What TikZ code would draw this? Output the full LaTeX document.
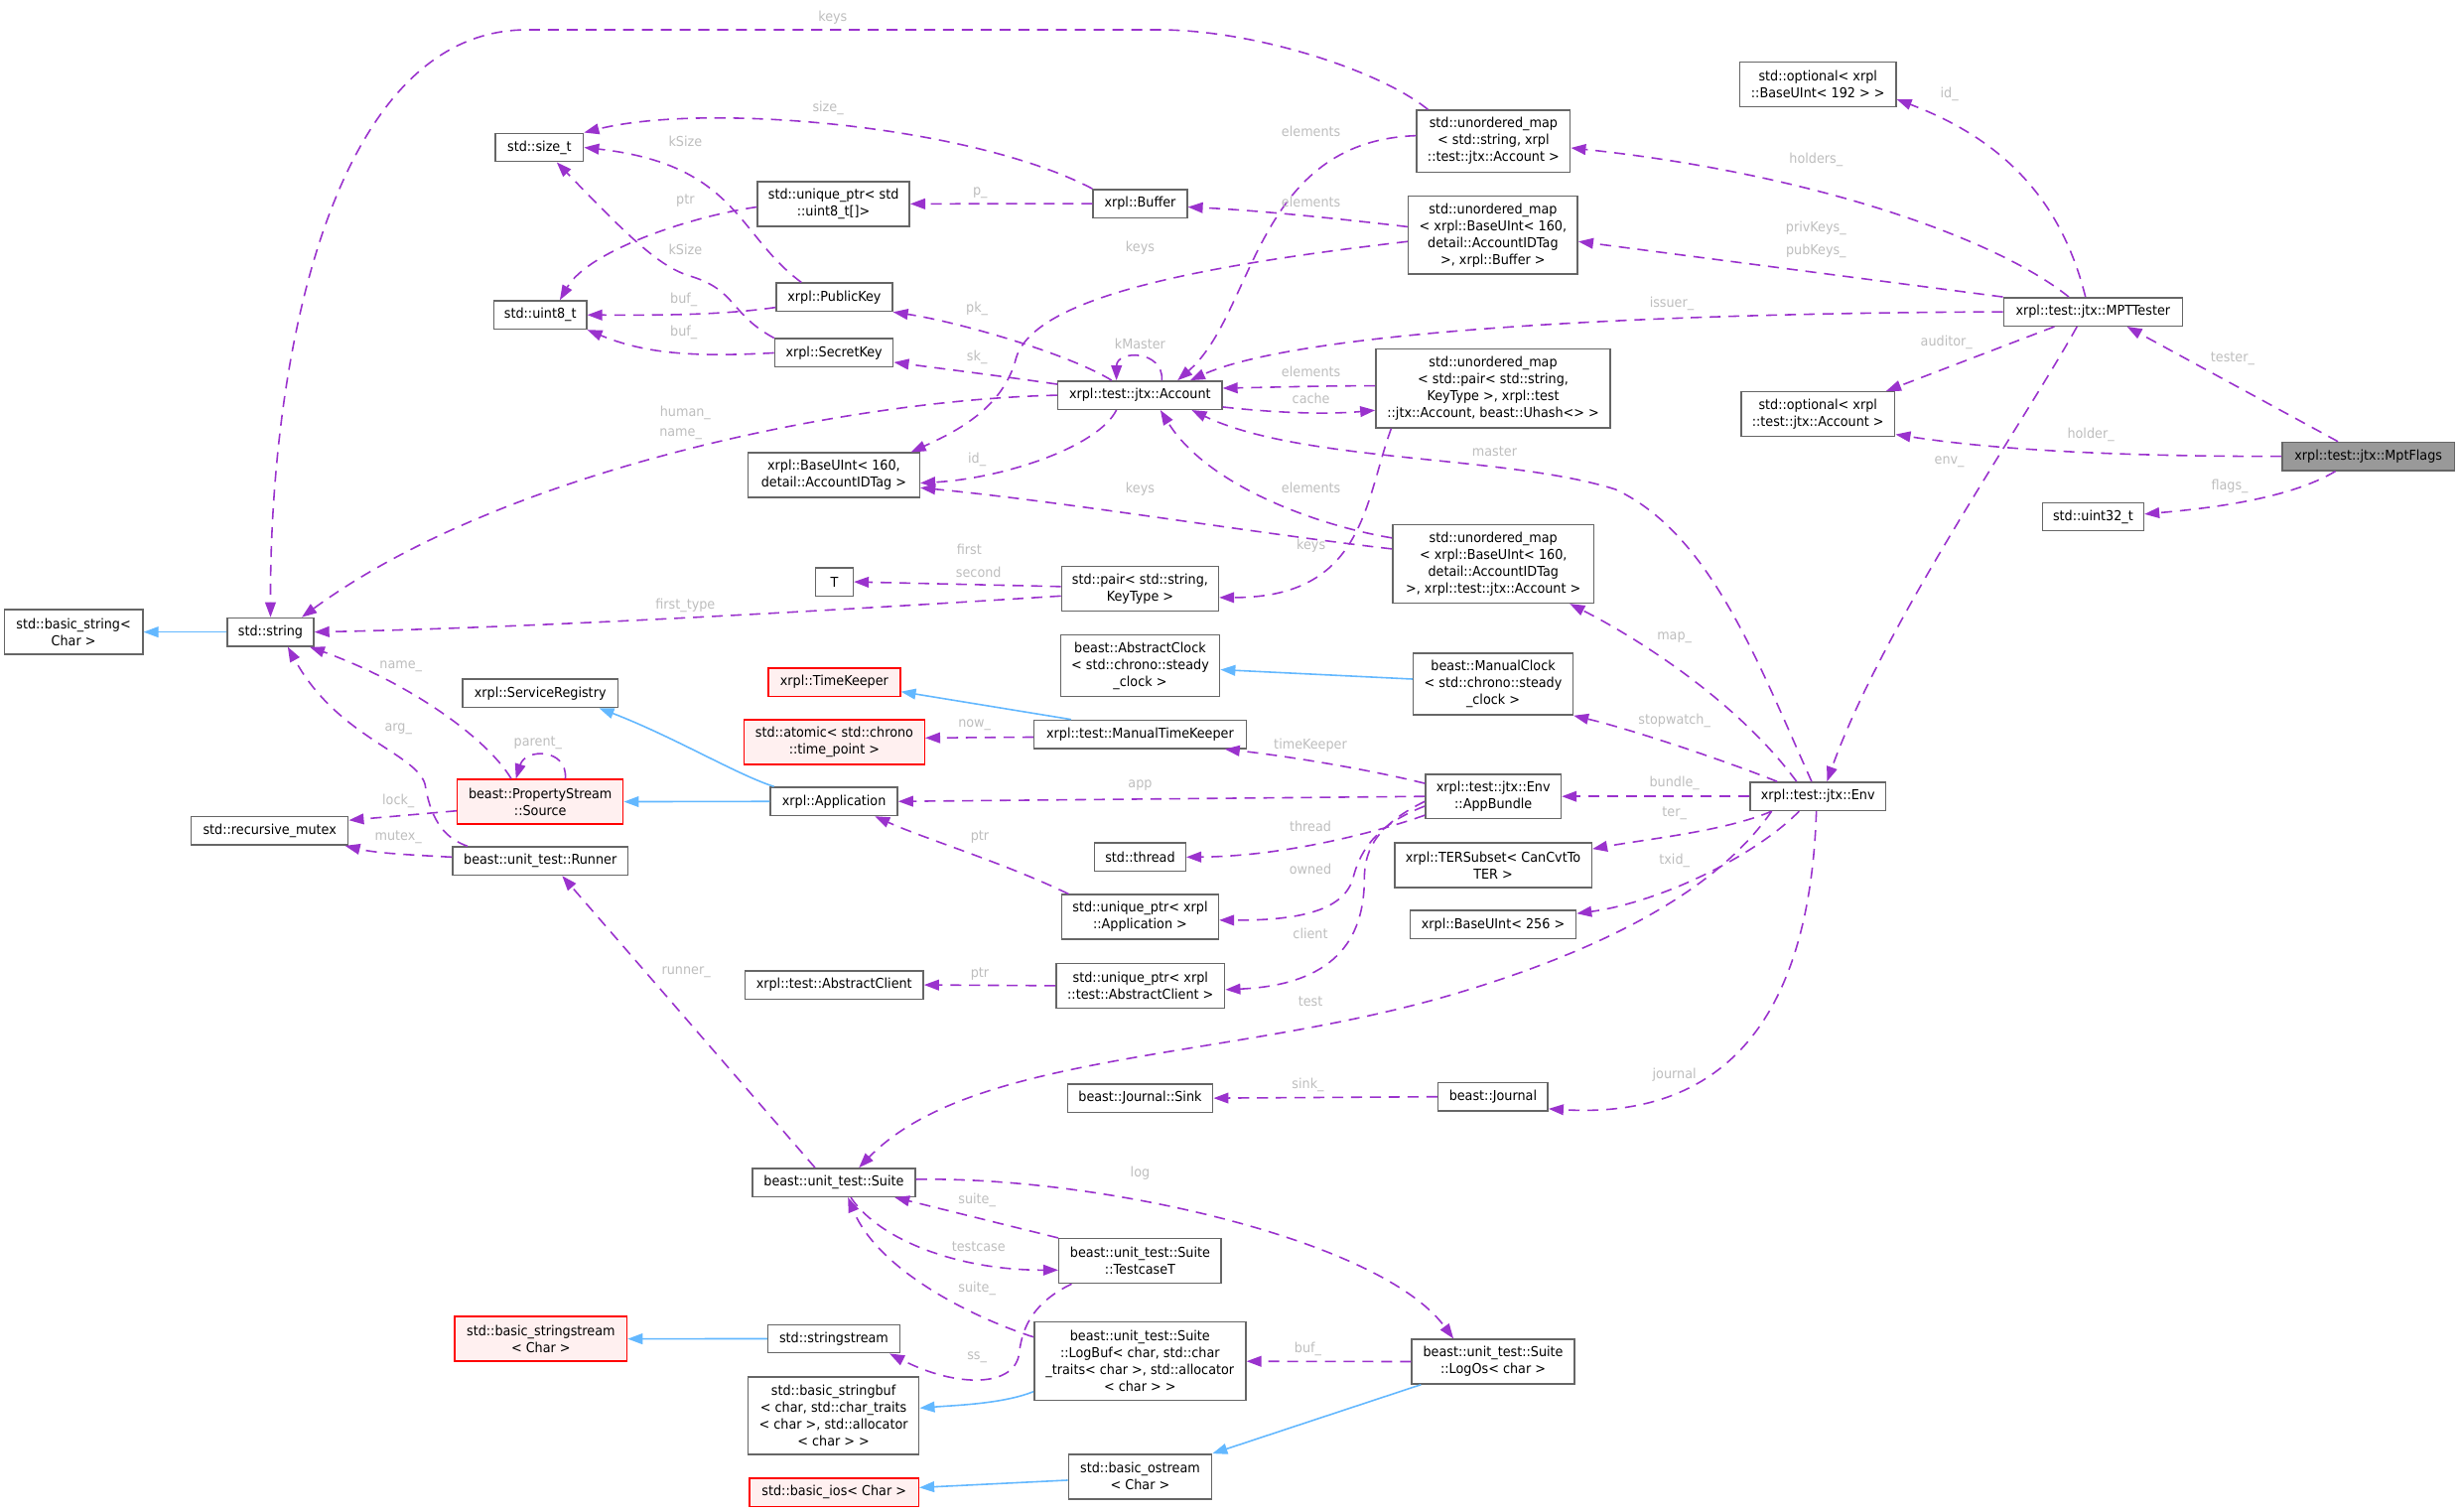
\documentclass[tikz,border=0pt]{standalone}
\usepackage{fontspec}
\setmainfont{DejaVu Sans}[FakeStretch=0.93]
\usetikzlibrary{arrows.meta}
\definecolor{epurple}{HTML}{9A32CD}
\definecolor{iblue}{HTML}{63B8FF}
\definecolor{lgray}{HTML}{BEBEBE}
\definecolor{bgray}{HTML}{666666}
\definecolor{rfill}{HTML}{FFF0F0}
\definecolor{ffill}{HTML}{999999}
\newcommand\dfont{\fontsize{8.7}{10.75}\selectfont}
\tikzset{
 cls/.style={draw=bgray, line width=0.95pt, fill=white, inner sep=0pt, align=center, font=\dfont, text=black},
 trunc/.style={cls, draw=red, fill=rfill},
 focus/.style={cls, fill=ffill},
 rel/.style={draw=epurple, line width=1pt, dash pattern=on 7pt off 5pt, -{Triangle[length=9.5pt,width=6.8pt]}},
 inh/.style={draw=iblue, line width=1pt, -{Triangle[length=9.5pt,width=6.8pt]}},
 elbl/.style={text=lgray, font=\dfont, inner sep=0pt},
}
\begin{document}
\begin{tikzpicture}[x=1pt,y=-1pt]
\fill[white] (0,0) rectangle (1568,964);
\useasboundingbox (0,0) rectangle (1568,964);
% ---------- nodes ----------
\node[cls, minimum width=88.3pt, minimum height=28.4pt] (bstr) at (46.9,403) {std::basic\_string<\\Char >};
\node[cls, minimum width=55pt, minimum height=18pt] (str) at (172.5,403) {std::string};
\node[cls, minimum width=100pt, minimum height=18pt] (rmutex) at (172,529.8) {std::recursive\_mutex};
\node[cls, minimum width=56pt, minimum height=18pt] (sizet) at (344,94) {std::size\_t};
\node[cls, minimum width=59pt, minimum height=18pt] (uint8) at (344.5,200.8) {std::uint8\_t};
\node[cls, minimum width=109.4pt, minimum height=28.4pt] (bu160) at (531.7,303) {xrpl::BaseUInt< 160,\\detail::AccountIDTag >};
\node[cls, minimum width=24pt, minimum height=18pt] (T) at (532,371) {T};
\node[cls, minimum width=99pt, minimum height=18pt] (svcreg) at (344.5,442) {xrpl::ServiceRegistry};
\node[trunc, minimum width=105.7pt, minimum height=28.4pt] (pss) at (344.5,511.2) {beast::PropertyStream\\::Source};
\node[cls, minimum width=111.8pt, minimum height=18pt] (runner) at (344.5,549) {beast::unit\_test::Runner};
\node[cls, minimum width=113.7pt, minimum height=18pt] (aclient) at (531.9,628) {xrpl::test::AbstractClient};
\node[cls, minimum width=104pt, minimum height=18pt] (suite) at (531.7,754) {beast::unit\_test::Suite};
\node[trunc, minimum width=109.7pt, minimum height=28.4pt] (bss) at (344.9,853.7) {std::basic\_stringstream\\< Char >};
\node[cls, minimum width=84.1pt, minimum height=18pt] (sstream) at (531.7,853.6) {std::stringstream};
\node[cls, minimum width=109pt, minimum height=49.4pt] (bsb) at (531.5,902.7) {std::basic\_stringbuf\\< char, std::char\_traits\\< char >, std::allocator\\< char > >};
\node[trunc, minimum width=107.7pt, minimum height=18pt] (bios) at (531.9,951.6) {std::basic\_ios< Char >};
\node[cls, minimum width=97pt, minimum height=28.4pt] (uptr8) at (531.5,130) {std::unique\_ptr< std\\::uint8\_t[]>};
\node[cls, minimum width=74pt, minimum height=18pt] (pubkey) at (532,189.5) {xrpl::PublicKey};
\node[cls, minimum width=75.5pt, minimum height=18pt] (seckey) at (531.8,225) {xrpl::SecretKey};
\node[cls, minimum width=60pt, minimum height=18pt] (buffer) at (727,129.8) {xrpl::Buffer};
\node[cls, minimum width=104.6pt, minimum height=18pt] (acct) at (726.9,252) {xrpl::test::jtx::Account};
\node[cls, minimum width=100pt, minimum height=28.4pt] (pair) at (727,375.4) {std::pair< std::string,\\KeyType >};
\node[cls, minimum width=101.5pt, minimum height=39.4pt] (aclock) at (727,424.4) {beast::AbstractClock\\< std::chrono::steady\\\_clock >};
\node[trunc, minimum width=84pt, minimum height=18pt] (tk) at (532,435) {xrpl::TimeKeeper};
\node[trunc, minimum width=115pt, minimum height=28.4pt] (atomic) at (532,473.2) {std::atomic< std::chrono\\::time\_point >};
\node[cls, minimum width=135.3pt, minimum height=18pt] (mtk) at (727,468.2) {xrpl::test::ManualTimeKeeper};
\node[cls, minimum width=81pt, minimum height=18pt] (app) at (531.8,511) {xrpl::Application};
\node[cls, minimum width=58pt, minimum height=18pt] (thread) at (727,546.5) {std::thread};
\node[cls, minimum width=100pt, minimum height=28.4pt] (uptrapp) at (727,584.7) {std::unique\_ptr< xrpl\\::Application >};
\node[cls, minimum width=107.5pt, minimum height=28.4pt] (uptrac) at (727.2,628.5) {std::unique\_ptr< xrpl\\::test::AbstractClient >};
\node[cls, minimum width=92.7pt, minimum height=18pt] (sink) at (727,700.2) {beast::Journal::Sink};
\node[cls, minimum width=103.5pt, minimum height=28.4pt] (tcase) at (727,804) {beast::unit\_test::Suite\\::TestcaseT};
\node[cls, minimum width=134.9pt, minimum height=50pt] (logbuf) at (726.9,868) {beast::unit\_test::Suite\\::LogBuf< char, std::char\\\_traits< char >, std::allocator\\< char > >};
\node[cls, minimum width=91.3pt, minimum height=28.4pt] (bostream) at (727,941.5) {std::basic\_ostream\\< Char >};
\node[cls, minimum width=97.8pt, minimum height=39.4pt] (mstr) at (952.3,90) {std::unordered\_map\\< std::string, xrpl\\::test::jtx::Account >};
\node[cls, minimum width=108pt, minimum height=49.7pt] (mbuf) at (952,149.9) {std::unordered\_map\\< xrpl::BaseUInt< 160,\\detail::AccountIDTag\\>, xrpl::Buffer >};
\node[cls, minimum width=149.6pt, minimum height=50.2pt] (mpair) at (952.1,247.7) {std::unordered\_map\\< std::pair< std::string,\\KeyType >, xrpl::test\\::jtx::Account, beast::Uhash<> >};
\node[cls, minimum width=128.3pt, minimum height=50pt] (macct) at (952.2,359.5) {std::unordered\_map\\< xrpl::BaseUInt< 160,\\detail::AccountIDTag\\>, xrpl::test::jtx::Account >};
\node[cls, minimum width=101.7pt, minimum height=39.4pt] (mclock) at (952.1,436.1) {beast::ManualClock\\< std::chrono::steady\\\_clock >};
\node[cls, minimum width=86.4pt, minimum height=28.4pt] (bundle) at (952.2,507.8) {xrpl::test::jtx::Env\\::AppBundle};
\node[cls, minimum width=125.7pt, minimum height=28.4pt] (ter) at (952.1,551.7) {xrpl::TERSubset< CanCvtTo\\TER >};
\node[cls, minimum width=105.7pt, minimum height=18pt] (bu256) at (952.1,589.5) {xrpl::BaseUInt< 256 >};
\node[cls, minimum width=70pt, minimum height=18pt] (journal) at (952,699.3) {beast::Journal};
\node[cls, minimum width=103.7pt, minimum height=28.4pt] (logos) at (952.1,868.2) {beast::unit\_test::Suite\\::LogOs< char >};
\node[cls, minimum width=99.5pt, minimum height=28.4pt] (optbu) at (1159.2,53.7) {std::optional< xrpl\\::BaseUInt< 192 > >};
\node[cls, minimum width=114pt, minimum height=18pt] (mpt) at (1334.6,198.8) {xrpl::test::jtx::MPTTester};
\node[cls, minimum width=98.1pt, minimum height=28.4pt] (optacct) at (1159.2,264) {std::optional< xrpl\\::test::jtx::Account >};
\node[focus, minimum width=110pt, minimum height=18pt] (flags) at (1510.2,291) {xrpl::test::jtx::MptFlags};
\node[cls, minimum width=64.5pt, minimum height=18pt] (u32) at (1334.7,329.5) {std::uint32\_t};
\node[cls, minimum width=86.3pt, minimum height=18pt] (env) at (1159.2,507.8) {xrpl::test::jtx::Env};
% ---------- relations ----------
\draw[rel] ([xshift=7.6pt]mstr.north west) .. controls (880,45) and (800,19) .. (739,19) -- (336,19) .. controls (215,19) and (172,220) .. (str.north);
\draw[rel] ([yshift=3.5pt]mstr.west) .. controls (800,90) and (800,200) .. ([xshift=24pt]acct.north);
\draw[rel] ([yshift=5.3pt]mbuf.west) .. controls (850,139) and (800,134) .. ([yshift=-2.2pt]buffer.east);
\draw[rel] ([yshift=-4.1pt]mbuf.west) .. controls (760,170) and (660,190) .. (648,228) .. controls (640,260) and (610,275) .. ([xshift=-6pt]bu160.north east);
\draw[rel] (buffer.north west) .. controls (620,80) and (450,65) .. (sizet.north east);
\draw[rel] (buffer.west) -- (uptr8.east);
\draw[rel] ([yshift=-2pt]uptr8.west) .. controls (440,138) and (375,160) .. ([xshift=12.5pt]uint8.north);
\draw[rel] ([xshift=-21pt]pubkey.north) .. controls (470,150) and (470,105) .. (sizet.east);
\draw[rel] (seckey.north west) .. controls (465,200) and (470,185) .. (440,176) .. controls (420,170) and (400,150) .. ([xshift=11pt]sizet.south);
\draw[rel] ([yshift=-6.5pt]pubkey.west) .. controls (460,201) and (420,201) .. (uint8.east);
\draw[rel] (seckey.west) .. controls (440,228) and (410,225) .. (uint8.south east);
\draw[rel] ([xshift=-18pt]acct.north) .. controls (680,225) and (610,205) .. (pubkey.south east);
\draw[rel] ([yshift=7pt]acct.west) .. controls (640,240) and (600,235) .. ([yshift=-6pt]seckey.east);
\draw[rel] ([xshift=14pt]acct.north) .. controls (742,223) and (712,223) .. ([xshift=-15pt]acct.north);
\draw[rel] (acct.west) .. controls (540,255) and (320,300) .. ([xshift=-8pt]str.north east);
\draw[rel] ([xshift=-15pt]acct.south) .. controls (700,285) and (640,305) .. ([yshift=-5pt]bu160.east);
\draw[rel] ([yshift=-7.5pt]acct.east) .. controls (820,264) and (850,264) .. ([yshift=-13.9pt]mpair.west);
\draw[rel] ([yshift=1.7pt]mpair.west) .. controls (840,246) and (810,247) .. ([yshift=4.5pt]acct.east);
\draw[rel] ([xshift=-65pt]mpair.south) .. controls (870,320) and (870,381) .. ([yshift=-5.6pt]pair.east);
\draw[rel] ([xshift=-4pt]env.north) .. controls (1120,420) and (1090,340) .. (1030,312) .. controls (960,290) and (830,295) .. ([xshift=33pt]acct.south);
\draw[rel] ([yshift=16.5pt]macct.west) .. controls (840,335) and (770,310) .. ([xshift=13pt]acct.south);
\draw[rel] ([yshift=9.5pt]macct.west) .. controls (800,340) and (680,320) .. ([yshift=-8pt]bu160.east);
\draw[rel] ([yshift=1.4pt]pair.west) -- (T.east);
\draw[rel] ([yshift=-4.6pt]pair.west) .. controls (550,388) and (350,400) .. (str.east);
\draw[rel] ([yshift=-1.8pt]mtk.west) -- ([yshift=2.7pt]atomic.east);
\draw[rel] (env.west) -- (bundle.east);
\draw[rel] ([yshift=8.3pt]bundle.west) .. controls (870,490) and (820,482) .. ([xshift=54pt]mtk.south);
\draw[rel] (bundle.west) -- (app.east);
\draw[rel] ([yshift=-12pt]bundle.west) .. controls (880,530) and (820,546) .. (thread.east);
\draw[rel] ([yshift=-6.2pt]bundle.west) .. controls (880,525) and (868,540) .. (863,559) .. controls (858,580) and (830,587) .. ([yshift=-2pt]uptrapp.east);
\draw[rel] ([yshift=-3.2pt]bundle.west) .. controls (880,525) and (870,540) .. (870,560) .. controls (870,600) and (850,628) .. ([yshift=-2.5pt]uptrac.east);
\draw[rel] ([xshift=-45.6pt]uptrapp.north) .. controls (640,550) and (590,535) .. ([xshift=26pt]app.south);
\draw[rel] (uptrac.west) -- (aclient.east);
\draw[rel] ([xshift=16pt]pss.north) .. controls (362,477) and (335,477) .. ([xshift=-15.5pt]pss.north);
\draw[rel] ([xshift=-18.5pt]pss.north) .. controls (310,470) and (260,435) .. ([xshift=-3pt]str.south east);
\draw[rel] ([yshift=-5.8pt]pss.west) -- ([yshift=6.8pt]rmutex.east);
\draw[rel] ([yshift=2.5pt]runner.west) .. controls (260,545) and (240,544) .. ([xshift=-2.4pt]rmutex.south east);
\draw[rel] ([xshift=10pt]runner.north west) .. controls (285,535) and (275,525) .. (271,500) .. controls (265,480) and (215,470) .. ([xshift=11pt]str.south);
\draw[rel] ([xshift=-12pt]suite.north) -- ([xshift=14pt]runner.south);
\draw[rel] ([xshift=-29.5pt]env.south) .. controls (1100,560) and (1040,600) .. (930,633) .. controls (787,676) and (620,670) .. ([xshift=16pt]suite.north);
\draw[rel] ([xshift=-1pt]env.south) .. controls (1155,620) and (1120,715) .. ([yshift=-7.7pt]journal.east);
\draw[rel] ([xshift=-29.5pt]env.south) .. controls (1100,530) and (1050,535) .. ([yshift=10.4pt]ter.east);
\draw[rel] ([xshift=-12pt]env.south) .. controls (1120,545) and (1060,575) .. ([yshift=7pt]bu256.east);
\draw[rel] ([xshift=-26pt]env.north) .. controls (1100,485) and (1040,465) .. (mclock.south east);
\draw[rel] ([xshift=-13.6pt]env.north) .. controls (1110,450) and (1050,410) .. ([xshift=-15.8pt]macct.south east);
\draw[rel] ([xshift=-10.2pt]mpt.south) .. controls (1290,270) and (1200,400) .. ([xshift=5.8pt]env.north);
\draw[rel] ([xshift=-24.6pt]mpt.south) -- ([xshift=-6pt]optacct.north east);
\draw[rel] (flags.west) .. controls (1330,291) and (1260,285) .. ([yshift=-13pt]optacct.east);
\draw[rel] ([xshift=-21pt]flags.south) .. controls (1460,318) and (1410,324) .. ([yshift=1.7pt]u32.east);
\draw[rel] ([xshift=-19.4pt]flags.north) -- ([xshift=21.7pt]mpt.south);
\draw[rel] ([xshift=-4.8pt]mpt.north) .. controls (1315,130) and (1280,90) .. ([yshift=-9.6pt]optbu.east);
\draw[rel] ([xshift=-15.4pt]mpt.north) .. controls (1270,150) and (1150,110) .. ([yshift=-4.3pt]mstr.east);
\draw[rel] (mpt.north west) -- ([yshift=-4.1pt]mbuf.east);
\draw[rel] (mpt.west) .. controls (1000,200) and (820,215) .. ([xshift=32pt]acct.north);
\draw[rel] (journal.west) -- (sink.east);
\draw[rel] ([yshift=2pt]suite.east) .. controls (700,750) and (880,790) .. ([xshift=-25.3pt]logos.north);
\draw[rel] (tcase.north west) -- ([xshift=-13.7pt]suite.south east);
\draw[rel] ([xshift=10.8pt]suite.south) .. controls (560,790) and (610,810) .. ([yshift=-5.8pt]tcase.west);
\draw[rel] ([yshift=15.5pt]logbuf.west) .. controls (620,840) and (560,810) .. ([xshift=9pt]suite.south);
\draw[rel] ([xshift=-43.7pt]tcase.south) .. controls (660,830) and (652,845) .. (650,862) .. controls (648,885) and (610,885) .. ([xshift=-7pt]sstream.south east);
\draw[rel] (logos.west) -- (logbuf.east);
% ---------- inheritance ----------
\draw[inh] ([xshift=-44pt]mtk.north) -- ([yshift=-6pt]tk.east);
\draw[inh] ([yshift=3.1pt]mclock.west) -- ([yshift=-2.6pt]aclock.east);
\draw[inh] ([xshift=2.7pt]app.north west) .. controls (470,494) and (430,470) .. ([xshift=37.5pt]svcreg.south);
\draw[inh] (app.west) -- (pss.east);
\draw[inh] (sstream.west) -- (bss.east);
\draw[inh] ([yshift=-19.3pt]logbuf.west) .. controls (640,895) and (610,896) .. ([yshift=4.9pt]bsb.east);
\draw[inh] ([xshift=-46pt]logos.south) -- (bostream.north east);
\draw[inh] ([yshift=-2.3pt]bostream.west) -- ([yshift=3.1pt]bios.east);
\draw[inh] (str.west) -- (bstr.east);
% ---------- labels ----------
\node[elbl] (l01) at (531,11) {keys};
\node[elbl] (l02) at (836,84) {elements};
\node[elbl] (l03) at (836,129) {elements};
\node[elbl] (l04) at (727,158) {keys};
\node[elbl] (l05) at (528,69) {size\_};
\node[elbl] (l06) at (625,123) {p\_};
\node[elbl] (l07) at (437,128) {ptr};
\node[elbl] (l08) at (437,90) {kSize};
\node[elbl] (l09) at (437,159) {kSize};
\node[elbl] (l10) at (436,191) {buf\_};
\node[elbl] (l11) at (436,212) {buf\_};
\node[elbl] (l12) at (623,197) {pk\_};
\node[elbl] (l13) at (623,228) {sk\_};
\node[elbl] (l14) at (727,219) {kMaster};
\node[elbl] (l15) at (437,263) {human\_};
\node[elbl] (l16) at (434,277) {name\_};
\node[elbl] (l17) at (623,293) {id\_};
\node[elbl] (l18) at (836,254) {cache};
\node[elbl] (l19) at (836,237) {elements};
\node[elbl] (l20) at (836,348) {keys};
\node[elbl] (l21) at (953,288) {master};
\node[elbl] (l22) at (836,311) {elements};
\node[elbl] (l23) at (727,312) {keys};
\node[elbl] (l24) at (618,350) {first};
\node[elbl] (l25) at (624,365) {second};
\node[elbl] (l26) at (437,386) {first\_type};
\node[elbl] (l27) at (621.4,462.5) {now\_};
\node[elbl] (l28) at (1067.7,499.5) {bundle\_};
\node[elbl] (l29) at (835.6,475) {timeKeeper};
\node[elbl] (l30) at (727,501) {app};
\node[elbl] (l31) at (835.6,527) {thread};
\node[elbl] (l32) at (835.6,554) {owned};
\node[elbl] (l33) at (835.6,595) {client};
\node[elbl] (l34) at (624.8,534) {ptr};
\node[elbl] (l35) at (624.8,621) {ptr};
\node[elbl] (l36) at (343,473.5) {parent\_};
\node[elbl] (l37) at (255.6,425) {name\_};
\node[elbl] (l38) at (254,510.6) {lock\_};
\node[elbl] (l39) at (254,534) {mutex\_};
\node[elbl] (l40) at (254,464.7) {arg\_};
\node[elbl] (l41) at (437.5,620) {runner\_};
\node[elbl] (l42) at (835.6,638.8) {test};
\node[elbl] (l43) at (1067.7,685.3) {journal};
\node[elbl] (l44) at (1067.7,518.8) {ter\_};
\node[elbl] (l45) at (1067.7,548.6) {txid\_};
\node[elbl] (l46) at (1067.7,459.5) {stopwatch\_};
\node[elbl] (l47) at (1067.7,406.7) {map\_};
\node[elbl] (l48) at (1243,294.4) {env\_};
\node[elbl] (l49) at (1241.2,218.6) {auditor\_};
\node[elbl] (l50) at (1333.2,277) {holder\_};
\node[elbl] (l51) at (1421.8,310.4) {flags\_};
\node[elbl] (l52) at (1423.6,228.8) {tester\_};
\node[elbl] (l53) at (1243,59.9) {id\_};
\node[elbl] (l54) at (1158,101.7) {holders\_};
\node[elbl] (l55) at (1158,145.8) {privKeys\_};
\node[elbl] (l56) at (1158,160) {pubKeys\_};
\node[elbl] (l57) at (1066,193.7) {issuer\_};
\node[elbl] (l58) at (834,692) {sink\_};
\node[elbl] (l59) at (727,748) {log};
\node[elbl] (l60) at (623,765.3) {suite\_};
\node[elbl] (l61) at (624,795) {testcase};
\node[elbl] (l62) at (623,821.3) {suite\_};
\node[elbl] (l63) at (623,865.6) {ss\_};
\node[elbl] (l64) at (834,859.9) {buf\_};
\end{tikzpicture}
\end{document}
